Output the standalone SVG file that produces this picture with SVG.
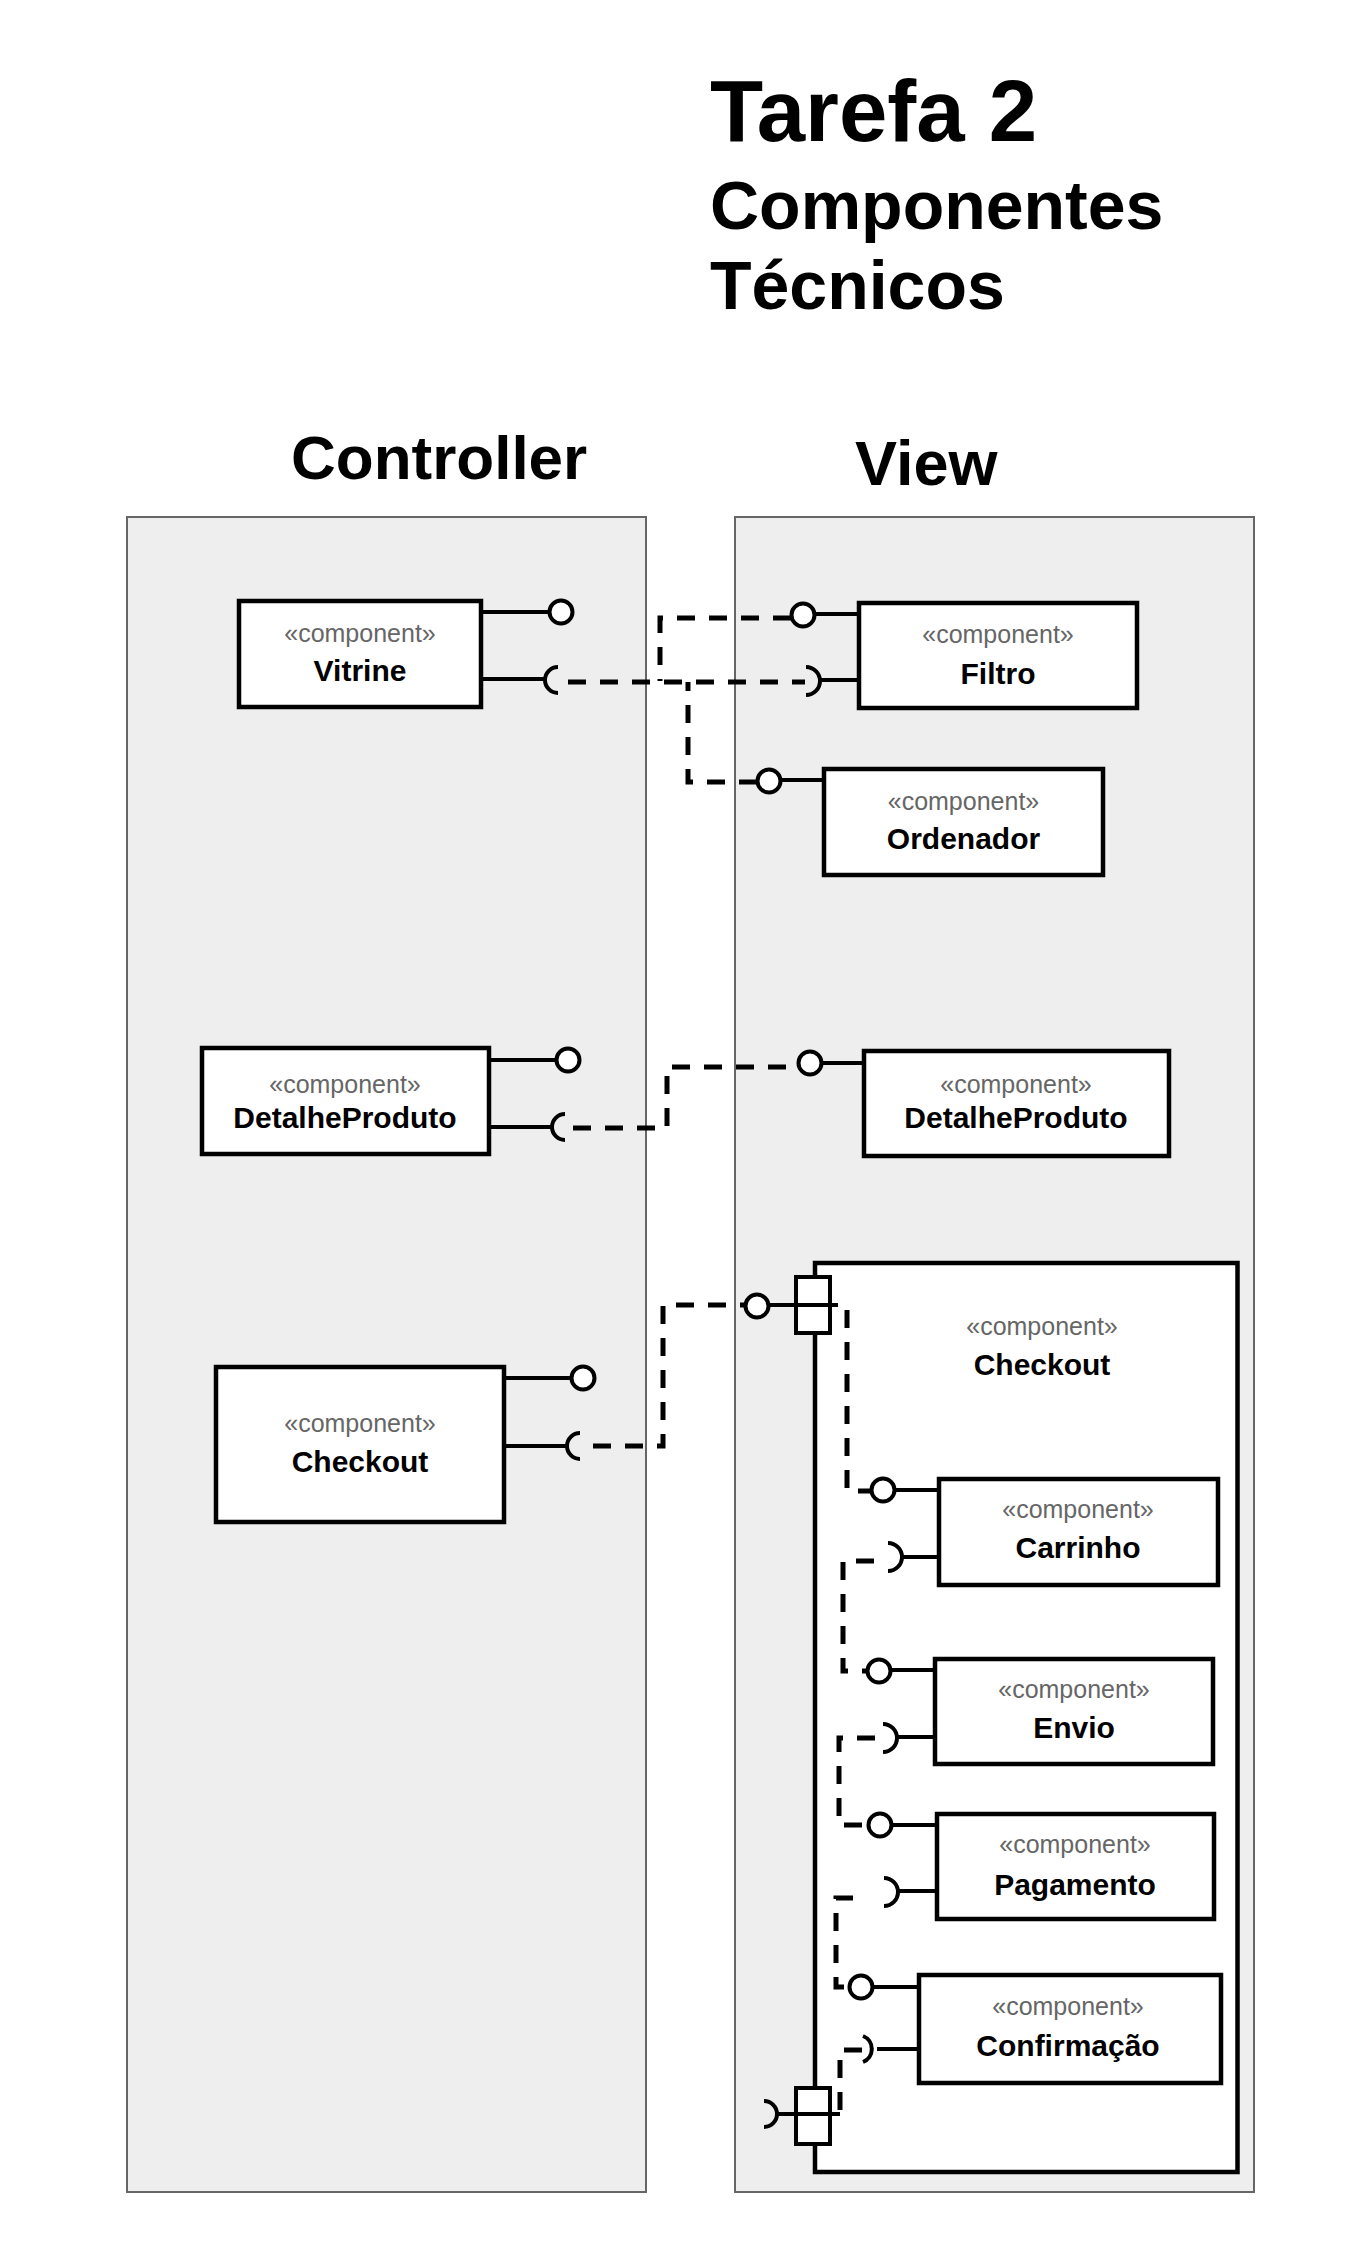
<svg xmlns="http://www.w3.org/2000/svg" width="1349" height="2249" viewBox="0 0 1349 2249">
<style>
.panel{fill:#eeeeee;stroke:#666666;stroke-width:2}
.comp{fill:#ffffff;stroke:#000000;stroke-width:4.5}
.port{fill:#ffffff;stroke:#000000;stroke-width:4}
.ln{fill:none;stroke:#000000;stroke-width:4}
.iface{fill:#ffffff;stroke:#000000;stroke-width:4}
.dash{fill:none;stroke:#000000;stroke-width:5;stroke-dasharray:18 14}
.st{font-family:"Liberation Sans",Arial,Helvetica,sans-serif;font-size:25px;fill:#666666;text-anchor:middle}
.nm{font-family:"Liberation Sans",Arial,Helvetica,sans-serif;font-size:30px;font-weight:bold;fill:#000000;text-anchor:middle}
.tt{font-family:"Liberation Sans",Arial,Helvetica,sans-serif;font-weight:bold;fill:#000000}
</style>
<rect width="1349" height="2249" fill="#ffffff"/>
<g id="title">
<text class="tt" x="710" y="141" font-size="87">Tarefa 2</text>
<text class="tt" x="710" y="229" font-size="68">Componentes</text>
<text class="tt" x="710" y="309" font-size="68">Técnicos</text>
</g>
<g id="panel-controller">
<text class="tt" x="291" y="479" font-size="62">Controller</text>
<rect class="panel" x="127" y="517" width="519" height="1675"/>
</g>
<g id="panel-view">
<text class="tt" x="855" y="485" font-size="63">View</text>
<rect class="panel" x="735" y="517" width="519" height="1675"/>
</g>
<g id="v-checkout">
<rect class="comp" x="815" y="1263" width="422.5" height="909"/>
<text class="st" x="1042" y="1335">«component»</text>
<text class="nm" x="1042" y="1375">Checkout</text>
<rect class="port" x="796" y="1277" width="34" height="56"/>
<path class="ln" d="M768.5,1305 H838"/>
<circle class="iface" cx="757" cy="1306" r="11.5"/>
<rect class="port" x="796" y="2088" width="34" height="56"/>
<path class="ln" d="M777,2114 H840"/>
<path class="ln" d="M764,2101 A13,13 0 0 1 764,2127"/>
</g>
<g id="connectors">
<path class="dash" d="M791,618 H660 V681"/>
<path class="dash" d="M568,682 H805"/>
<path class="dash" d="M757,782 H688 V682"/>
<path class="dash" d="M573,1128 H667 V1067 H798"/>
<path class="dash" d="M593,1446 H663 V1305 H745"/>
<path class="dash" d="M847,1310 V1491 H872"/>
<path class="dash" d="M874,1561 H843 V1671 H867"/>
<path class="dash" d="M875,1738 H839 V1825 H868"/>
<path class="dash" d="M853,1898 H836 V1987 H849"/>
<path class="dash" d="M862,2050 H840 V2114"/>
</g>
<g id="c-vitrine">
<rect class="comp" x="239" y="601" width="242" height="106"/>
<path class="ln" d="M481,612 H549.5 M481,679 H545"/>
<circle class="iface" cx="561" cy="612" r="11.5"/>
<path class="ln" d="M558,667 A13,13 0 0 0 558,693"/>
<text class="st" x="360" y="642">«component»</text>
<text class="nm" x="360" y="681">Vitrine</text>
</g>
<g id="v-filtro">
<rect class="comp" x="859" y="603" width="278" height="105"/>
<path class="ln" d="M814.5,614 H859 M820,680 H859"/>
<circle class="iface" cx="803" cy="615" r="11.5"/>
<path class="ln" d="M806,667 A14,14 0 0 1 806,695"/>
<text class="st" x="998" y="643">«component»</text>
<text class="nm" x="998" y="684">Filtro</text>
</g>
<g id="v-ordenador">
<rect class="comp" x="824" y="769" width="279" height="106"/>
<path class="ln" d="M780.5,780 H824"/>
<circle class="iface" cx="769" cy="781" r="11.5"/>
<text class="st" x="963.5" y="810">«component»</text>
<text class="nm" x="963.5" y="849">Ordenador</text>
</g>
<g id="c-detalheproduto">
<rect class="comp" x="202" y="1048" width="287" height="106"/>
<path class="ln" d="M489,1060 H556.5 M489,1127 H552"/>
<circle class="iface" cx="568" cy="1060" r="11.5"/>
<path class="ln" d="M565,1114 A13,13 0 0 0 565,1140"/>
<text class="st" x="345" y="1093">«component»</text>
<text class="nm" x="345" y="1128">DetalheProduto</text>
</g>
<g id="v-detalheproduto">
<rect class="comp" x="864" y="1051" width="305" height="105"/>
<path class="ln" d="M821.5,1063 H864"/>
<circle class="iface" cx="810" cy="1063" r="11.5"/>
<text class="st" x="1016" y="1093">«component»</text>
<text class="nm" x="1016" y="1128">DetalheProduto</text>
</g>
<g id="c-checkout">
<rect class="comp" x="216" y="1367" width="288" height="155"/>
<path class="ln" d="M504,1378 H571.5 M504,1446 H567"/>
<circle class="iface" cx="583" cy="1378" r="11.5"/>
<path class="ln" d="M580,1433 A13,13 0 0 0 580,1459"/>
<text class="st" x="360" y="1432">«component»</text>
<text class="nm" x="360" y="1472">Checkout</text>
</g>
<g id="v-carrinho">
<rect class="comp" x="939" y="1479" width="279" height="106"/>
<path class="ln" d="M894.5,1490 H939 M902,1557 H939"/>
<circle class="iface" cx="883" cy="1490" r="11.5"/>
<path class="ln" d="M888,1543 A14,14 0 0 1 888,1571"/>
<text class="st" x="1078" y="1518">«component»</text>
<text class="nm" x="1078" y="1558">Carrinho</text>
</g>
<g id="v-envio">
<rect class="comp" x="935" y="1659" width="278" height="105"/>
<path class="ln" d="M890.5,1670 H935 M897,1737 H935"/>
<circle class="iface" cx="879" cy="1671" r="11.5"/>
<path class="ln" d="M883,1724 A14,14 0 0 1 883,1752"/>
<text class="st" x="1074" y="1698">«component»</text>
<text class="nm" x="1074" y="1738">Envio</text>
</g>
<g id="v-pagamento">
<rect class="comp" x="937" y="1814" width="277" height="105"/>
<path class="ln" d="M891.5,1825 H937 M898,1891 H937"/>
<circle class="iface" cx="880" cy="1825" r="11.5"/>
<path class="ln" d="M884,1878 A14,14 0 0 1 884,1906"/>
<text class="st" x="1075" y="1853">«component»</text>
<text class="nm" x="1075" y="1895">Pagamento</text>
</g>
<g id="v-confirmacao">
<rect class="comp" x="919" y="1975" width="302" height="108"/>
<path class="ln" d="M872.5,1987 H919 M877,2049 H919"/>
<circle class="iface" cx="861" cy="1987" r="11.5"/>
<path class="ln" d="M863,2036 A14,14 0 0 1 863,2062"/>
<text class="st" x="1068" y="2015">«component»</text>
<text class="nm" x="1068" y="2056">Confirmação</text>
</g>
</svg>
